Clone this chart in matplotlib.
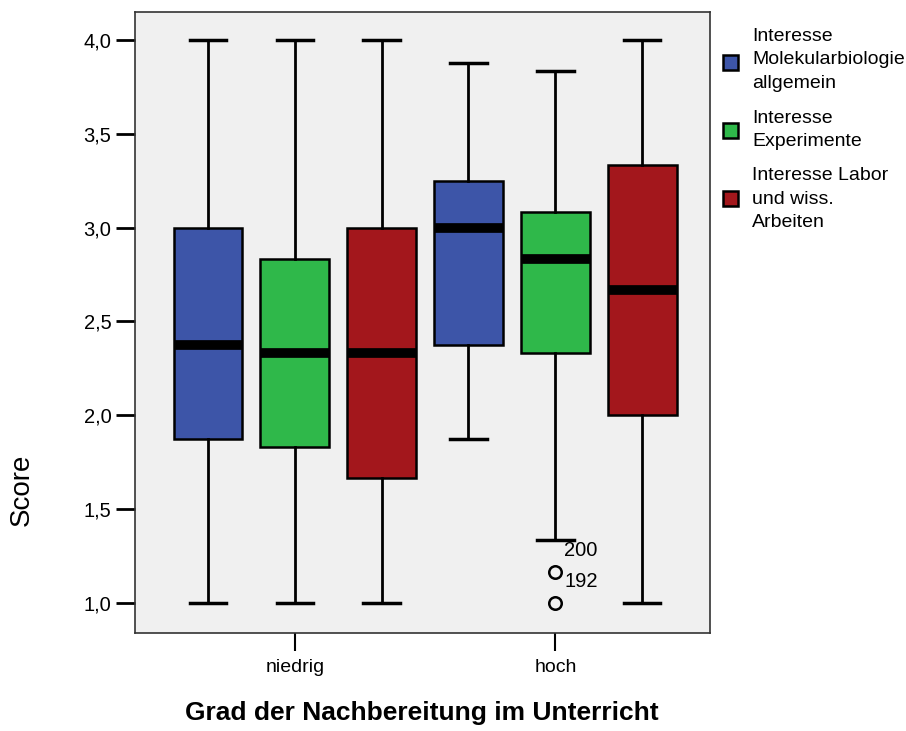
import numpy as np
import matplotlib.pyplot as plt
from matplotlib.patches import Rectangle

plt.rcParams['font.family'] = ['Liberation Sans', 'DejaVu Sans']

groups = ['niedrig', 'hoch']
series = ['Interesse\nMolekularbiologie\nallgemein', 'Interesse\nExperimente', 'Interesse Labor\nund wiss.\nArbeiten']
colors = ['#3d55a8', '#2fb84a', '#a3171c']

# per series: [niedrig, hoch]
whislo = [[1.0, 1.875], [1.0, 1.333], [1.0, 1.0]]
q1 = [[1.875, 2.375], [1.833, 2.333], [1.667, 2.0]]
med = [[2.375, 3.0], [2.333, 2.833], [2.333, 2.667]]
q3 = [[3.0, 3.25], [2.833, 3.083], [3.0, 3.333]]
whishi = [[4.0, 3.875], [4.0, 3.833], [4.0, 4.0]]
fliers = [[[], []], [[], [1.167, 1.0]], [[], []]]
flier_ids = [[[], []], [[], ['200', '192']], [[], []]]

fig = plt.figure(figsize=(9.06, 7.31), dpi=100)
ax = fig.add_axes([135 / 906, 98 / 731, 575 / 906, 621 / 731])
ax.set_facecolor('#f0f0f0')

offsets = [-1, 0, 1]
for s in range(3):
    for g in range(2):
        pos = g * 3 + offsets[s]
        st = [dict(whislo=whislo[s][g], q1=q1[s][g], med=med[s][g], q3=q3[s][g],
                   whishi=whishi[s][g], fliers=fliers[s][g])]
        ax.bxp(st, positions=[pos], widths=0.79, patch_artist=True,
               boxprops=dict(facecolor=colors[s], edgecolor='black', linewidth=1.8),
               medianprops=dict(color='black', linewidth=7, solid_capstyle='butt'),
               whiskerprops=dict(color='black', linewidth=2),
               capprops=dict(color='black', linewidth=2.5),
               capwidths=0.42,
               flierprops=dict(marker='o', markerfacecolor='none', markeredgecolor='black',
                               markersize=9, markeredgewidth=1.8))
        for v, lab in zip(fliers[s][g], flier_ids[s][g]):
            ax.text(pos + 0.1, v + 0.115, lab, fontsize=14.5, ha='left', va='center')

ax.set_xlim(-1.839, 4.78)
ax.set_ylim(0.84, 4.149)
ax.set_xticks([0, 3])
ax.set_xticklabels(groups, fontsize=14)
ax.set_yticks([1.0, 1.5, 2.0, 2.5, 3.0, 3.5, 4.0])
ax.set_yticklabels(['1,0', '1,5', '2,0', '2,5', '3,0', '3,5', '4,0'], fontsize=14.5)
ax.tick_params(axis='y', length=14, width=2, pad=3)
ax.tick_params(axis='x', length=13, width=1.5, pad=6)
for sp in ax.spines.values():
    sp.set_linewidth(1.2)
    sp.set_color('#333333')

fig.text(22 / 906, 1 - 490 / 731, 'Score', fontsize=20, rotation=90, ha='center', va='center')
fig.text(422 / 906, 1 - 713 / 731, 'Grad der Nachbereitung im Unterricht', fontsize=19,
         fontweight='bold', ha='center', va='center')

# legend
box_y = [62, 130, 198]
text_y = [60, 130, 199]
for s in range(3):
    fig.patches.append(Rectangle((723 / 906, 1 - (box_y[s] + 7.5) / 731), 15 / 906, 15 / 731,
                                 transform=fig.transFigure, facecolor=colors[s],
                                 edgecolor='black', linewidth=1.8))
    fig.text(752 / 906, 1 - text_y[s] / 731, series[s], fontsize=14, ha='left', va='center',
             linespacing=1.5)

fig.savefig('out.png', dpi=100)
